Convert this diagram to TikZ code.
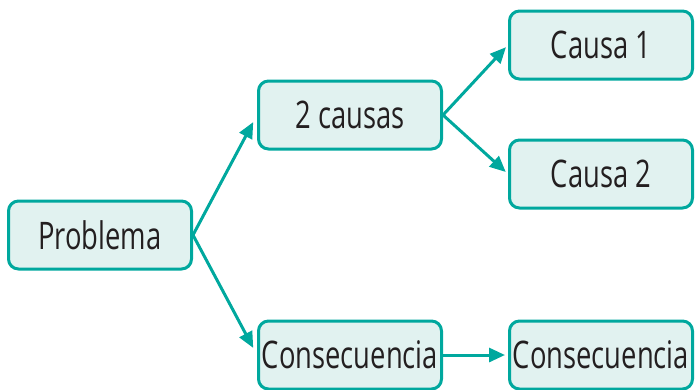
\documentclass[tikz,border=0pt]{standalone}
\usepackage{fontspec}
\setmainfont{Open Sans}[FakeStretch=0.72]
\usetikzlibrary{arrows.meta}

\definecolor{tealline}{RGB}{0,168,158}
\definecolor{tealfill}{RGB}{225,242,240}
\definecolor{inktext}{RGB}{35,31,32}

\begin{document}
\begin{tikzpicture}[x=1pt, y=-1pt,
    % Styles
    box/.style={draw=tealline, fill=tealfill, line width=3pt, rounded corners=10pt, minimum width=183pt, minimum height=68pt, inner sep=0pt, align=center, font=\fontsize{38}{44}\selectfont, text=inktext},
    arrow/.style={-{Triangle[length=16pt,width=14pt]}, line width=3pt, tealline, shorten >=3pt},
]
\useasboundingbox (0,0) rectangle (695,389);

% Problem
\node[box] (problema) at (100, 235) {Problema};

% Causes
\node[box] (causas) at (350, 115) {2 causas};
\draw[arrow, shorten >=8pt] (problema.east) -- (causas.west);

\node[box] (causa1) at (601, 45) {Causa 1};
\node[box] (causa2) at (601, 174) {Causa 2};
\draw[arrow] (causas.east) -- (causa1.west);
\draw[arrow] (causas.east) -- (causa2.west);

% Consequences
\node[box] (consec1) at (350, 355) {Consecuencia};
\draw[arrow, shorten >=8pt] (problema.east) -- (consec1.west);

\node[box] (consec2) at (601, 355) {Consecuencia};
\draw[arrow] (consec1) -- (consec2);

\end{tikzpicture}
\end{document}
